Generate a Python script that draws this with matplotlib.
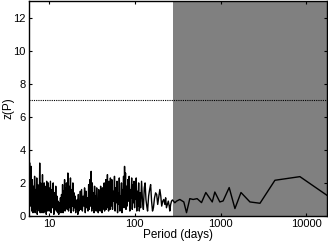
import matplotlib
matplotlib.use("Agg")
import matplotlib.pyplot as plt

plt.rcParams['font.family'] = ['Liberation Sans', 'DejaVu Sans']

# --- periodogram values (period in days, z(P)) ---

# 5.9 - 10 days
period_a = [5.85, 6.0, 6.1, 6.2, 6.3, 6.4, 6.5, 6.6, 6.7, 6.8, 6.9, 7.0, 7.1, 7.2,
            7.3, 7.4, 7.5, 7.6, 7.7, 7.8, 7.9, 8.0, 8.1, 8.2, 8.3, 8.4, 8.5, 8.6,
            8.7, 8.8, 8.9, 9.0, 9.1, 9.2, 9.3, 9.4, 9.5, 9.6, 9.7, 9.8, 9.9, 10.0]
z_a = [0.4, 3.2, 0.6, 3.0, 0.3, 2.2, 0.2, 1.8, 0.5, 2.4, 0.2, 1.6, 0.4, 2.3,
       0.1, 1.9, 0.5, 1.4, 0.3, 3.2, 0.2, 2.0, 0.6, 1.7, 0.2, 2.5, 0.4, 1.5,
       0.2, 2.0, 0.5, 1.8, 0.3, 1.6, 0.1, 2.1, 0.4, 1.9, 0.3, 2.0, 0.5, 1.7]

# 10 - 23 days
period_b = [10.2, 10.4, 10.6, 10.8, 11.0, 11.2, 11.4, 11.6, 11.8, 12.0, 12.2, 12.4,
            12.6, 12.8, 13.0, 13.2, 13.4, 13.6, 13.8, 14.0, 14.2, 14.4, 14.6, 14.8,
            15.0, 15.2, 15.4, 15.6, 15.8, 16.0, 16.3, 16.6, 16.9, 17.2, 17.5, 17.8,
            18.1, 18.4, 18.7, 19.0, 19.3, 19.6, 19.9, 20.2, 20.5, 20.8, 21.1, 21.4,
            21.7, 22.0, 22.3, 22.6, 22.9, 23.2]
z_b = [0.3, 2.1, 0.2, 1.6, 0.5, 2.0, 0.1, 1.4, 0.4, 1.8, 0.3, 1.2,
       0.2, 0.9, 0.1, 0.8, 0.3, 1.1, 0.2, 1.3, 0.4, 1.9, 0.2, 1.5,
       0.5, 2.2, 0.3, 1.7, 0.6, 2.0, 0.4, 2.6, 0.3, 1.8, 0.5, 2.3,
       0.2, 1.6, 0.6, 2.0, 0.3, 1.4, 0.5, 1.2, 0.2, 0.9, 0.4, 1.0,
       0.1, 1.3, 0.3, 0.8, 0.5, 1.5]

# 23 - 52 days
period_c = [23.5, 24.0, 24.5, 25.0, 25.5, 26.0, 26.5, 27.0, 27.5, 28.0, 28.5, 29.0,
            29.5, 30.0, 30.5, 31.0, 31.5, 32.0, 32.5, 33.0, 33.5, 34.0, 34.5, 35.0,
            35.5, 36.0, 36.5, 37.0, 37.5, 38.0, 38.5, 39.0, 39.5, 40.0, 40.5, 41.0,
            41.5, 42.0, 42.5, 43.0, 43.5, 44.0, 44.5, 45.0, 45.5, 46.0, 46.5, 47.0,
            47.5, 48.0, 48.5, 49.0, 49.5, 50.0, 50.5, 51.0, 51.5, 52.0]
z_c = [0.4, 1.6, 0.3, 1.2, 0.6, 1.7, 0.2, 1.5, 0.5, 1.1, 0.3, 1.9,
       0.4, 2.2, 0.6, 2.7, 0.3, 2.0, 0.5, 1.4, 0.2, 1.8, 0.7, 1.2,
       0.3, 1.7, 0.5, 1.0, 0.2, 1.6, 0.6, 1.3, 0.3, 1.8, 0.8, 1.4,
       0.2, 1.7, 0.4, 1.1, 0.6, 2.0, 0.3, 1.5, 0.7, 2.2, 0.4, 1.6,
       0.9, 2.5, 0.5, 1.8, 0.3, 2.1, 0.8, 1.6, 0.4, 2.3]

# 53 - 115 days
period_d = [53, 54, 55, 56, 57, 58, 59, 60, 61, 62, 63, 64, 65, 66, 67, 68, 69, 70,
            71, 72, 73, 74, 75, 76, 77, 78, 79, 80, 81.5, 83, 84.5, 86, 87.5, 89,
            90.5, 92, 93.5, 95, 96.5, 98, 99.5, 101, 102.5, 104, 105.5, 107, 109,
            111, 113, 115]
z_d = [0.6, 2.2, 0.4, 1.5, 0.9, 2.4, 0.3, 1.7, 0.8, 2.1, 0.2, 1.4, 0.7, 2.3, 0.3, 1.2, 0.6, 2.0,
       0.2, 1.6, 1.0, 2.4, 0.5, 3.0, 1.2, 2.6, 0.4, 1.8, 0.6, 2.2, 0.9, 2.4, 0.3, 1.6,
       1.1, 2.3, 0.4, 1.9, 0.8, 2.1, 0.5, 2.0, 1.0, 2.3, 0.3, 1.5, 0.6,
       2.0, 0.3, 1.4]

# 115 - 280 days
period_e = [117, 120, 123, 126, 129, 132, 135, 138, 141, 145, 149, 153, 157, 161,
            165, 170, 175, 180, 185, 190, 196, 201, 206, 212, 218, 224, 229, 234,
            240, 246, 252, 256, 262, 268, 275]
z_e = [0.5, 2.1, 0.9, 0.4, 1.7, 2.0, 1.0, 0.6, 0.3, 1.2, 1.6, 1.9, 0.9, 0.3,
       0.5, 1.1, 1.4, 1.3, 0.7, 1.1, 1.6, 1.2, 0.6, 0.9, 1.0, 0.7, 1.1, 0.5,
       0.7, 0.9, 0.6, 0.3, 0.7, 0.9, 0.97]

# long periods (shaded part)
period_f = [293, 307, 335, 373, 401, 438, 479, 533, 600, 673, 800, 857, 980, 1070,
            1260, 1470, 1730, 2200, 2880, 4300, 8410, 17400]
z_f = [0.8, 0.9, 1.0, 0.85, 0.2, 1.05, 1.0, 1.05, 0.81, 1.42, 0.85, 1.45, 0.85, 0.91,
       1.72, 0.45, 1.42, 0.85, 0.77, 2.16, 2.38, 1.25]

periods = period_a + period_b + period_c + period_d + period_e + period_f
z = z_a + z_b + z_c + z_d + z_e + z_f

z_threshold = 7.0
shade_start = 280
xticks = [10, 100, 1000, 10000]
yticks = [0, 2, 4, 6, 8, 10, 12]

fig = plt.figure(figsize=(3.28, 2.42), dpi=100)
ax = fig.add_axes([29/328, 26/242, 298/328, 215/242])

ax.axvspan(shade_start, 1e5, color='#808080', lw=0, zorder=0)
ax.axhline(z_threshold, color='black', lw=0.8, ls=(0, (1, 1)), zorder=2)
ax.plot(periods, z, color='black', lw=1.0, zorder=3)

ax.set_xscale('log')
ax.set_xlim(5.85, 17400)
ax.set_ylim(0, 13)
ax.set_xticks(xticks)
ax.set_xticklabels([str(t) for t in xticks])
ax.minorticks_off()
ax.set_yticks(yticks)
ax.tick_params(direction='in', length=2.5, width=0.8, labelsize=8, pad=2.5,
               top=True, right=True)

ax.set_xlabel('Period (days)', fontsize=8.5, labelpad=0)
ax.set_ylabel('z(P)', fontsize=8.5)
ax.yaxis.set_label_coords(-0.05, 0.5)

for s in ax.spines.values():
    s.set_linewidth(1.0)

fig.savefig('out.png', dpi=100)
